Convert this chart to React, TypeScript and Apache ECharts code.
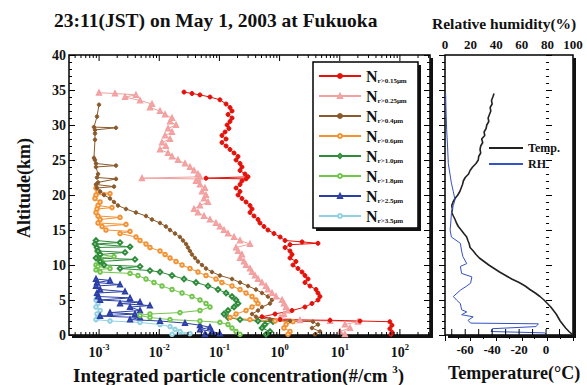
import React, { useEffect, useRef } from "react";
import * as echarts from "echarts";

const FONT = '"Liberation Serif", "Times New Roman", serif';

const titleText = "23:11(JST) on May 1, 2003 at Fukuoka";
const rhTitle = "Relative humidity(%)";
const xTitleMain = "Integrated particle concentration(#/cm ";
const xTitleSup = "3";
const tempTitle = "Temperature(°C)";
const altTitle = "Altitude(km)";

const sizeNames = ["r>0.15μm", "r>0.25μm", "r>0.4μm", "r>0.6μm", "r>1.0μm", "r>1.8μm", "r>2.5μm", "r>3.5μm"];
const sizeColors = ["#e3120b", "#f2a0a0", "#8b5a2b", "#f39233", "#2e8b3a", "#72c44c", "#2b3ea6", "#90d0e2"];
const sizeSymbols = ["circle", "emptyTriangle", "circle", "emptyCircle", "emptyDiamond", "emptyCircle", "emptyTriangle", "emptyCircle"];
const sizeSymbolSizes = [4, 4, 3.5, 3.5, 4.5, 3.5, 4, 3.5];

// Altitude (km) and integrated concentration (#/cm3) for each size threshold
const altN015 = [34.7,34.5,34.3,34.0,33.6,33.0,32.5,32.0,31.5,31.0,30.5,30.0,29.5,29.0,28.5,28.0,27.5,27.0,26.5,26.0,25.5,25.0,24.5,24.0,23.5,23.0,22.6,22.4,22.3,22.0,21.5,21.0,20.5,20.0,19.5,19.0,18.5,18.0,17.5,17.0,16.5,16.0,15.5,15.0,14.5,14.0,13.5,13.3,13.1,12.9,12.5,12.0,11.5,11.0,10.5,10.0,9.5,9.0,8.5,8.0,7.5,7.0,6.5,6.0,5.5,5.0,4.5,4.0,3.5,3.0,2.6,2.2,2.1,2.0,1.9,1.4,0.9,0.4,0.1];
const valN015 = [0.0258,0.035,0.0475,0.0697,0.102,0.129,0.150,0.162,0.139,0.162,0.150,0.134,0.144,0.124,0.110,0.129,0.110,0.129,0.150,0.175,0.204,0.189,0.220,0.237,0.220,0.266,0.299,0.0598,0.277,0.237,0.220,0.189,0.220,0.204,0.237,0.277,0.322,0.348,0.322,0.376,0.438,0.472,0.550,0.641,0.807,1.02,1.23,2.36,4.35,1.49,1.23,1.49,1.61,1.49,1.87,1.67,2.02,2.36,2.64,2.97,2.64,3.20,4.03,4.35,4.69,4.35,3.45,2.64,1.61,0.84,0.51,1.02,6.9,21.7,68,73.8,68,73.8,71];

const altN025 = [34.6,34.5,34.3,34.0,33.5,33.0,32.5,32.0,31.5,31.0,30.5,30.0,29.5,29.0,28.5,28.0,27.5,27.0,26.5,26.0,25.5,25.0,24.5,24.0,23.5,23.0,22.6,22.4,22.3,22.0,21.5,21.0,20.5,20.0,19.5,19.0,18.5,18.0,17.5,17.0,16.5,16.0,15.5,15.0,14.5,14.0,13.5,13.0,12.5,12.0,11.5,11.0,10.5,10.0,9.5,9.0,8.5,8.0,7.5,7.0,6.5,6.0,5.5,5.0,4.5,4.0,3.5,3.0,2.5,2.1,2.0,1.9,1.5,1.0,0.5,0.1];
const valN025 = [0.000997,0.00184,0.0041,0.0027,0.00479,0.00757,0.00701,0.0103,0.0125,0.0163,0.0151,0.019,0.014,0.0163,0.0125,0.0151,0.0111,0.0129,0.0103,0.014,0.0163,0.0205,0.0268,0.0324,0.0378,0.044,0.0475,0.00516,0.044,0.0408,0.0475,0.0575,0.0513,0.0598,0.0554,0.0646,0.0475,0.0378,0.044,0.0554,0.0697,0.0877,0.102,0.119,0.139,0.175,0.220,0.322,0.189,0.204,0.237,0.220,0.256,0.277,0.322,0.348,0.390,0.438,0.51,0.594,0.641,0.748,0.871,1.10,1.18,1.28,1.38,1.18,1.02,2.18,6.9,20.1,12.2,14.8,10.1,12.2];

const altN04 = [32.9,31.2,29.7,29.6,29.3,28.8,27.9,25.3,25.0,24.5,24.2,24.0,23.0,22.5,22.3,21.8,21.5,21.2,21.0,20.5,20.0,19.5,19.0,18.5,18.0,17.5,17.0,16.5,16.0,15.5,15.0,14.5,14.0,13.5,13.0,12.5,12.0,11.5,11.0,10.5,10.0,9.5,9.0,8.5,8.0,7.5,7.0,6.5,6.0,5.5,5.0,4.5,4.0,3.5,3.0,2.6,2.2,2.0,1.9,1.5,1.0,0.5,0.1];
const valN04 = [0.000997,0.000923,0.000822,0.00191,0.000855,0.000855,0.000855,0.000822,0.000855,0.000888,0.00191,0.000888,0.00096,0.000923,0.00191,0.00096,0.000888,0.00177,0.000923,0.00104,0.00121,0.00152,0.00177,0.00206,0.0028,0.0041,0.00602,0.00757,0.0103,0.0129,0.0151,0.0183,0.0221,0.0248,0.0279,0.030,0.0324,0.035,0.0393,0.044,0.0513,0.0598,0.0753,0.102,0.162,0.22,0.299,0.405,0.51,0.641,0.748,0.692,0.51,0.438,0.348,0.405,0.692,1.49,3.59,4.35,3.45,4.69,3.87];

const altN06 = [21.0,20.5,20.2,20.0,19.5,19.0,18.5,18.2,18.0,17.5,17.0,16.8,16.5,16.0,15.8,15.5,15.0,14.8,14.5,14.0,13.5,13.0,12.5,12.0,11.5,11.0,10.5,10.0,9.5,9.0,8.5,8.0,7.5,7.0,6.5,6.0,5.5,5.0,4.5,4.0,3.5,3.0,2.5,2.2,2.0,1.9,1.5,1.0,0.5,0.1];
const valN06 = [0.000888,0.00096,0.00152,0.000888,0.000855,0.00104,0.00096,0.00164,0.000923,0.000888,0.00096,0.00223,0.00104,0.00096,0.0028,0.00112,0.0013,0.00327,0.00223,0.0041,0.00479,0.00602,0.00701,0.0103,0.0125,0.0151,0.019,0.0239,0.0324,0.044,0.0598,0.0877,0.110,0.162,0.22,0.277,0.348,0.405,0.438,0.348,0.277,0.189,0.150,0.322,0.84,1.67,1.28,1.18,1.49,1.38];

const altN10 = [13.5,13.2,13.0,12.6,12.5,12.0,11.8,11.5,11.0,10.8,10.5,10.0,9.8,9.5,9.2,9.0,8.5,8.0,7.5,7.0,6.5,6.0,5.5,5.0,4.5,4.0,3.5,3.0,2.5,2.2,2.0,1.9,1.5,1.0,0.5,0.1];
const valN10 = [0.000888,0.00223,0.000855,0.00327,0.000923,0.00096,0.0027,0.00104,0.000888,0.00395,0.00104,0.00121,0.00479,0.00223,0.00701,0.0103,0.0163,0.0258,0.0408,0.0646,0.0947,0.129,0.162,0.189,0.204,0.175,0.139,0.119,0.139,0.22,0.438,0.777,0.572,0.51,0.692,0.594];

const altN18 = [12.0,11.5,11.2,11.0,10.5,10.0,9.8,9.5,9.3,9.0,8.8,8.5,8.0,7.5,7.0,6.5,6.0,5.5,5.0,4.5,4.0,3.5,3.2,3.0,2.8,2.5,2.2,2.0,1.8,1.5,1.0,0.5,0.1];
const valN18 = [0.000923,0.00104,0.00177,0.00096,0.00112,0.000888,0.00096,0.00152,0.000888,0.00104,0.00327,0.00443,0.00602,0.00818,0.0111,0.0163,0.0239,0.035,0.0475,0.0598,0.0697,0.0475,0.0221,0.00701,0.00479,0.00701,0.0151,0.0475,0.102,0.139,0.162,0.189,0.22];

const altN25 = [8.0,7.8,7.5,7.2,7.0,6.5,6.2,6.0,5.5,5.3,5.0,4.7,4.5,4.2,4.0,3.5,3.2,3.0,2.7,2.5,2.2,2.0,1.7,1.4,1.1,0.8,0.5,0.2,0.1];
const valN25 = [0.000888,0.00152,0.000923,0.00223,0.000888,0.00104,0.0027,0.000923,0.00096,0.00327,0.00104,0.00479,0.00223,0.00701,0.00327,0.00479,0.00152,0.00395,0.00104,0.00479,0.00327,0.0103,0.0268,0.0475,0.0697,0.0475,0.0753,0.102,0.0575];

const altN35 = [5.3,5.0,4.5,4.0,3.5,3.0,2.5,2.2,2.0,1.8,1.5,1.2,0.8,0.5,0.2,0.1];
const valN35 = [0.000923,0.000888,0.00096,0.000888,0.00104,0.000923,0.00096,0.000888,0.00152,0.00479,0.0103,0.0151,0.0183,0.0221,0.0324,0.0163];

// Temperature (°C) and relative humidity (%) profiles
const altTemp = [34.5,34.0,33.5,33.0,32.5,32.0,31.5,31.0,30.5,30.0,29.5,29.0,28.5,28.0,27.5,27.0,26.5,26.0,25.5,25.0,24.5,24.0,23.5,23.0,22.5,22.0,21.5,21.0,20.5,20.0,19.5,19.0,18.5,18.0,17.5,17.0,16.5,16.0,15.5,15.0,14.5,14.0,13.5,13.0,12.5,12.0,11.5,11.0,10.5,10.0,9.5,9.0,8.5,8.0,7.5,7.0,6.5,6.0,5.5,5.0,4.5,4.0,3.5,3.0,2.5,2.0,1.5,1.0,0.5,0.0];
const tempC = [-38.6,-39.5,-40.5,-40.0,-41.5,-41.0,-42.0,-43.0,-42.5,-44.0,-44.5,-46.0,-45.5,-47.8,-47.0,-48.5,-49.0,-48.5,-50.0,-50.3,-52.0,-54.5,-56.4,-57.5,-60.0,-61.4,-62.0,-63.0,-64.0,-65.5,-67.6,-69.0,-70.0,-69.5,-70.0,-68.8,-67.5,-66.5,-65.1,-63.0,-61.0,-58.9,-58.0,-57.0,-56.4,-54.0,-52.0,-49.5,-46.0,-42.5,-38.5,-34.5,-30.0,-25.5,-20.0,-15.5,-12.0,-8.0,-4.5,-1.5,1.0,3.5,5.5,7.5,9.0,10.5,12.5,14.5,17.0,20.0];
const altRH = [0.1,0.3,0.5,0.9,1.2,1.6,1.7,2.1,2.6,2.9,3.3,3.6,4.5,5.0,5.5,6.4,7.0,7.4,8.3,8.8,9.8,10.2,11.2,12.0,13.1,14.0,15.0,16.0,17.4,18.5,19.3,20.5,21.7,24.5,27.0,29.3,32.0,34.5];
const rhPct = [79,78,36,37,71,73,20,18,22,13,17,13,12,9,6.5,12,17,20,21,13,12,17,14,13,12,5,4,4.5,5,6.5,7.8,6.5,5,2.6,2,1.3,0.8,0.5];

const profileAlts = [altN015, altN025, altN04, altN06, altN10, altN18, altN25, altN35];
const profileVals = [valN015, valN025, valN04, valN06, valN10, valN18, valN25, valN35];

const concMin = Math.pow(10, -3.5);
const concMax = Math.pow(10, 2.5);
const altMin = 0;
const altMax = 40;
const tempTickVals = [-70, -60, -50, -40, -30, -20, -10, 0, 10];

function buildLogTicks(): number[][] {
  const out: number[][] = [];
  for (let e = -4; e <= 2; e++) {
    for (let k = 1; k <= 9; k++) {
      const v = k * Math.pow(10, e);
      if (v > concMin && v < concMax) out.push([v, k === 1 ? 1 : 0]);
    }
  }
  return out;
}

const boldText = { fontFamily: FONT, fontWeight: "bold" as const, color: "#111" };

// frame / legend box geometry (pixels)
const leftGrid = { left: 69, top: 55, width: 361, height: 280 };
const rightGrid = { left: 445, top: 55, width: 128, height: 280 };
const legendBox = { x: 313, y: 62, w: 105, h: 166 };

function shadowStrips(b: { x: number; y: number; w: number; h: number }, d: number, z: number) {
  return [
    { type: "rect", z, shape: { x: b.x + b.w, y: b.y + d, width: d, height: b.h }, style: { fill: "#111" }, silent: true },
    { type: "rect", z, shape: { x: b.x + d, y: b.y + b.h, width: b.w, height: d }, style: { fill: "#111" }, silent: true },
  ];
}

function buildOption(): any {
  const yTick = { show: true, inside: true, length: 6, lineStyle: { color: "#000", width: 1 } };
  const yMinor = { show: true, splitNumber: 5, length: 3, lineStyle: { color: "#000", width: 1 } };
  const yBase = {
    type: "value",
    min: altMin,
    max: altMax,
    interval: 5,
    axisLine: { show: false },
    splitLine: { show: false },
    axisTick: yTick,
    minorTick: yMinor,
  };

  const sizeSeries: any[] = [];
  for (let i = sizeNames.length - 1; i >= 0; i--) {
    sizeSeries.push({
      name: sizeNames[i],
      type: "line",
      xAxisIndex: 0,
      yAxisIndex: 0,
      data: profileAlts[i].map((a, j) => [profileVals[i][j], a]),
      symbol: sizeSymbols[i],
      symbolSize: sizeSymbolSizes[i],
      showSymbol: true,
      color: sizeColors[i],
      lineStyle: { width: 1, color: sizeColors[i] },
      itemStyle: { color: sizeColors[i], borderColor: sizeColors[i], borderWidth: 1 },
      z: 3,
    });
  }

  const lb = { x: leftGrid.left, y: leftGrid.top, w: leftGrid.width, h: leftGrid.height };
  const rb = { x: rightGrid.left, y: rightGrid.top, w: rightGrid.width, h: rightGrid.height };

  return {
    animation: false,
    backgroundColor: "#fff",
    textStyle: { fontFamily: FONT },
    title: [
      { text: titleText, left: 54, top: 10, padding: 0, textStyle: { ...boldText, fontSize: 19.5 } },
      { text: rhTitle, left: 432, top: 15, padding: 0, textStyle: { ...boldText, fontSize: 15.5 } },
      {
        text: `{a|${xTitleMain}}{s|${xTitleSup}}{a|)}`,
        left: 73,
        top: 363,
        padding: 0,
        textStyle: {
          rich: {
            a: { ...boldText, fontSize: 19, lineHeight: 22, verticalAlign: "bottom" },
            s: { ...boldText, fontSize: 11, lineHeight: 22, verticalAlign: "top" },
          },
        },
      },
      { text: tempTitle, left: 448, top: 364, padding: 0, textStyle: { ...boldText, fontSize: 18 } },
    ],
    graphic: [
      ...shadowStrips(lb, 3, 1),
      ...shadowStrips(rb, 3, 1),
      {
        type: "text",
        x: 24,
        y: 188,
        rotation: Math.PI / 2,
        silent: true,
        style: {
          text: altTitle,
          fill: "#111",
          font: `bold 18px ${FONT}`,
          align: "center",
          verticalAlign: "middle",
        },
      },
      {
        type: "rect",
        z: 3.5,
        silent: true,
        shape: { x: legendBox.x, y: legendBox.y, width: legendBox.w, height: legendBox.h },
        style: { fill: "#fff", stroke: "#000", lineWidth: 1.5 },
      },
      ...shadowStrips({ x: legendBox.x, y: legendBox.y, w: legendBox.w, h: legendBox.h }, 3, 3.5),
    ],
    legend: [
      {
        data: sizeNames,
        orient: "vertical",
        left: legendBox.x,
        top: legendBox.y,
        padding: [6, 6, 6, 5],
        itemGap: 4,
        itemWidth: 42,
        itemHeight: 5,
        z: 5,
        formatter: (name: string) => `{n|N}{s|${name}}`,
        textStyle: {
          rich: {
            n: { ...boldText, fontSize: 16, lineHeight: 16, verticalAlign: "bottom" },
            s: { ...boldText, fontSize: 7, lineHeight: 16, verticalAlign: "bottom" },
          },
        },
      },
      {
        data: ["Temp.", "RH"],
        orient: "vertical",
        left: 489,
        top: 142,
        padding: 0,
        itemGap: 4,
        itemWidth: 34,
        itemHeight: 2,
        icon: "rect",
        z: 5,
        textStyle: { ...boldText, fontSize: 12 },
      },
    ],
    grid: [
      { ...leftGrid, show: true, backgroundColor: "#fff", borderColor: "#000", borderWidth: 1.5 },
      { ...rightGrid, show: true, backgroundColor: "#fff", borderColor: "#000", borderWidth: 1.5 },
    ],
    xAxis: [
      {
        type: "log",
        logBase: 10,
        gridIndex: 0,
        min: concMin,
        max: concMax,
        axisLine: { show: false },
        axisTick: { show: false },
        splitLine: { show: false },
        axisLabel: {
          margin: 7,
          showMinLabel: false,
          showMaxLabel: false,
          formatter: (v: number) => `{b|10}{e|${Math.round(Math.log10(v))}}`,
          rich: {
            b: { ...boldText, fontSize: 14, lineHeight: 17, verticalAlign: "bottom" },
            e: { ...boldText, fontSize: 8.5, lineHeight: 17, verticalAlign: "top" },
          },
        },
      },
      {
        type: "value",
        gridIndex: 1,
        position: "bottom",
        min: -75,
        max: 20,
        interval: 5,
        axisLine: { show: false },
        axisTick: { show: false },
        splitLine: { show: false },
        axisLabel: {
          interval: 0,
          margin: 8,
          ...boldText,
          fontSize: 13,
          formatter: (v: number) => (v % 20 === 0 && v <= 0 ? String(v) : ""),
        },
      },
      {
        type: "value",
        gridIndex: 1,
        position: "top",
        min: 0,
        max: 100,
        interval: 20,
        axisLine: { show: false },
        axisTick: { show: true, inside: true, length: 6, lineStyle: { color: "#000" } },
        minorTick: { show: true, splitNumber: 2, length: 4, lineStyle: { color: "#000" } },
        splitLine: { show: false },
        axisLabel: { interval: 0, showMinLabel: true, showMaxLabel: true, margin: 4, ...boldText, fontSize: 13 },
      },
    ],
    yAxis: [
      {
        ...yBase,
        gridIndex: 0,
        position: "left",
        axisLabel: { margin: 3, ...boldText, fontSize: 14 },
      },
      { ...yBase, gridIndex: 0, position: "right", axisLabel: { show: false } },
      { ...yBase, gridIndex: 1, position: "left", axisLabel: { show: false } },
      { ...yBase, gridIndex: 1, position: "right", axisLabel: { show: false } },
    ],
    series: [
      {
        type: "custom",
        xAxisIndex: 0,
        yAxisIndex: 0,
        silent: true,
        z: 5,
        data: buildLogTicks(),
        renderItem: (_p: any, api: any) => {
          const v = api.value(0);
          const major = api.value(1);
          const b = api.coord([v, altMin]);
          const t = api.coord([v, altMax]);
          const len = major ? 6 : 3;
          return {
            type: "group",
            children: [
              { type: "line", shape: { x1: b[0], y1: b[1], x2: b[0], y2: b[1] - len }, style: { stroke: "#000", lineWidth: 1 } },
              { type: "line", shape: { x1: t[0], y1: t[1], x2: t[0], y2: t[1] + len }, style: { stroke: "#000", lineWidth: 1 } },
            ],
          };
        },
      },
      {
        type: "custom",
        xAxisIndex: 1,
        yAxisIndex: 2,
        silent: true,
        z: 5,
        data: tempTickVals.map((v) => [v, 0]),
        renderItem: (_p: any, api: any) => {
          const b = api.coord([api.value(0), altMin]);
          return { type: "line", shape: { x1: b[0], y1: b[1], x2: b[0], y2: b[1] - 6 }, style: { stroke: "#000", lineWidth: 1 } };
        },
      },
      ...sizeSeries,
      {
        name: "Temp.",
        type: "line",
        xAxisIndex: 1,
        yAxisIndex: 2,
        data: altTemp.map((a, i) => [tempC[i], a]),
        symbol: "none",
        color: "#222",
        lineStyle: { width: 1.6, color: "#222" },
        z: 3,
      },
      {
        name: "RH",
        type: "line",
        xAxisIndex: 2,
        yAxisIndex: 2,
        data: altRH.map((a, i) => [rhPct[i], a]),
        symbol: "none",
        color: "#3552c4",
        lineStyle: { width: 1, color: "#3552c4" },
        z: 3,
      },
    ],
  };
}

export default function App() {
  const ref = useRef<HTMLDivElement>(null);
  useEffect(() => {
    if (!ref.current) return;
    const chart = echarts.init(ref.current, null, { renderer: "svg" });
    chart.setOption(buildOption());
    return () => chart.dispose();
  }, []);
  return <div ref={ref} style={{ position: "absolute", left: 0, top: 0, width: 587, height: 385 }} />;
}
